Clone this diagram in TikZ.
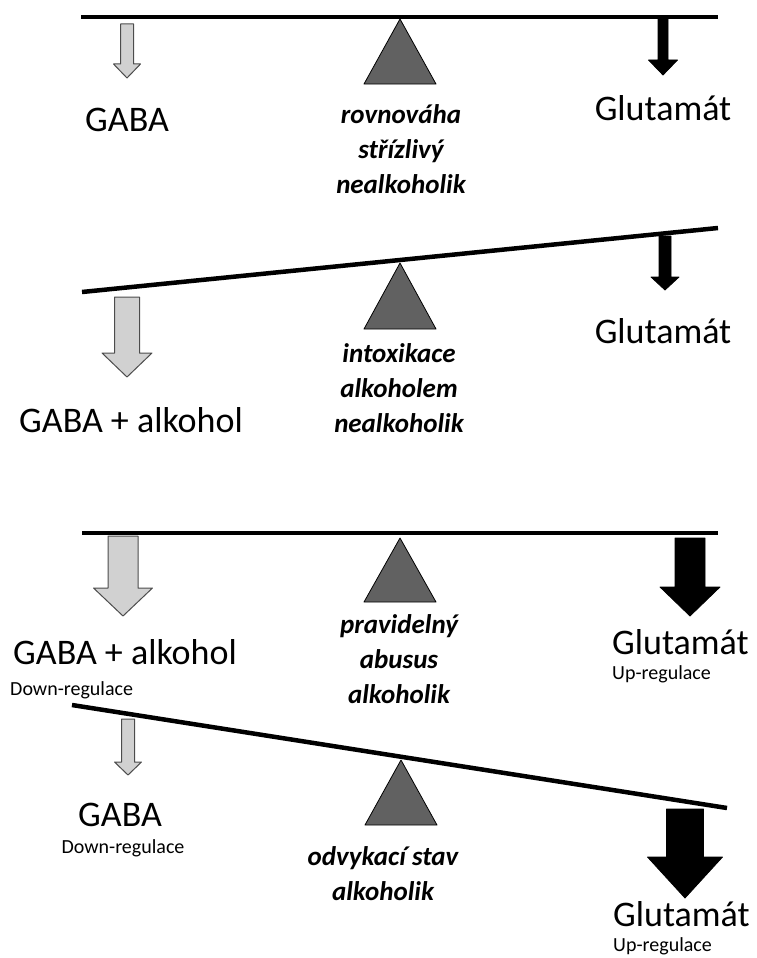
\documentclass[tikz,border=0pt]{standalone}
\usepackage{fontspec}
\setmainfont{Carlito}
\usetikzlibrary{positioning}

% block arrow: style, x, top, head start, tip, shaft half width, head half width
\newcommand{\blockarrow}[7]{%
  \draw[#1] (#2-#6,#3) -- (#2+#6,#3) -- (#2+#6,#4) -- (#2+#7,#4)
    -- (#2,#5) -- (#2-#7,#4) -- (#2-#6,#4) -- cycle;}

\begin{document}
\begin{tikzpicture}[x=1pt, y=-1pt,
    beam/.style={line width=4.5pt, black},
    fulcrum/.style={fill=black!62, draw=black, line width=0.8pt, line join=round},
    gabaarrow/.style={fill=black!18, draw=black!70, line width=1pt, line join=round},
    gluarrow/.style={fill=black, draw=black, line width=0.8pt, line join=round},
    biglabel/.style={font=\fontsize{36}{40}\selectfont, anchor=base, inner sep=0pt},
    reglabel/.style={font=\fontsize{20}{22}\selectfont, anchor=base, inner sep=0pt},
    statelabel/.style={font=\fontsize{27}{35}\selectfont\bfseries\itshape, align=center, anchor=base, inner sep=0pt}]
    \useasboundingbox (0,0) rectangle (756,958);

    % 1: rovnovaha (state labels sit on their last line)
    \coordinate (b1l) at (81,17);
    \coordinate (b1r) at (718,17);
    \draw[beam] (b1l) -- (b1r);
    \draw[fulcrum] (400,19) -- (436,84) -- (364,84) -- cycle;
    \blockarrow{gabaarrow}{127}{24}{64}{78}{6.5}{13.5}
    \blockarrow{gluarrow}{663}{18}{60}{75}{5}{14.5}
    \node[biglabel] (gaba1) at (127,131) {GABA};
    \node[biglabel] (glu1) at (663,120) {Glutamát};
    \node[statelabel] (state1) at (401,193) {rovnováha\\střízlivý\\nealkoholik};

    % 2: intoxikace
    \coordinate (b2l) at (82,292);
    \coordinate (b2r) at (718,228);
    \draw[beam] (b2l) -- (b2r);
    \draw[fulcrum] (400,263) -- (436,329) -- (364,329) -- cycle;
    \blockarrow{gabaarrow}{127}{297}{353}{377}{12.5}{25}
    \blockarrow{gluarrow}{665}{236}{277}{290}{6}{14}
    \node[biglabel] (gaba2) at (131,432) {GABA + alkohol};
    \node[biglabel] (glu2) at (663,343) {Glutamát};
    \node[statelabel] (state2) at (399,432) {intoxikace\\alkoholem\\nealkoholik};

    % 3: pravidelny abusus
    \coordinate (b3l) at (82,533);
    \coordinate (b3r) at (718,533);
    \draw[beam] (b3l) -- (b3r);
    \draw[fulcrum] (400,538) -- (436,602) -- (364,602) -- cycle;
    \blockarrow{gabaarrow}{123}{536}{588}{616}{15}{29.5}
    \blockarrow{gluarrow}{690}{538}{587}{616}{15}{30}
    \node[biglabel] (gaba3) at (125,664) {GABA + alkohol};
    \node[reglabel, anchor=base west] (down3) at (10,695) {Down-regulace};
    \node[biglabel, anchor=base west] (glu3) at (612,654) {Glutamát};
    \node[reglabel, anchor=base west] (up3) at (612,679) {Up-regulace};
    \node[statelabel] (state3) at (399,703) {pravidelný\\abusus\\alkoholik};

    % 4: odvykaci stav
    \coordinate (b4l) at (72,705);
    \coordinate (b4r) at (727,808);
    \draw[beam] (b4l) -- (b4r);
    \draw[fulcrum] (401,760) -- (437,825) -- (365,825) -- cycle;
    \blockarrow{gabaarrow}{128}{719}{762}{775}{6.5}{13.5}
    \blockarrow{gluarrow}{685}{809}{857}{898}{18.5}{37.5}
    \node[biglabel] (gaba4) at (120,826) {GABA};
    \node[reglabel] (down4) at (123,853) {Down-regulace};
    \node[biglabel, anchor=base west] (glu4) at (613,926) {Glutamát};
    \node[reglabel, anchor=base west] (up4) at (613,951) {Up-regulace};
    \node[statelabel] (state4) at (383,900) {odvykací stav\\alkoholik};
\end{tikzpicture}
\end{document}
